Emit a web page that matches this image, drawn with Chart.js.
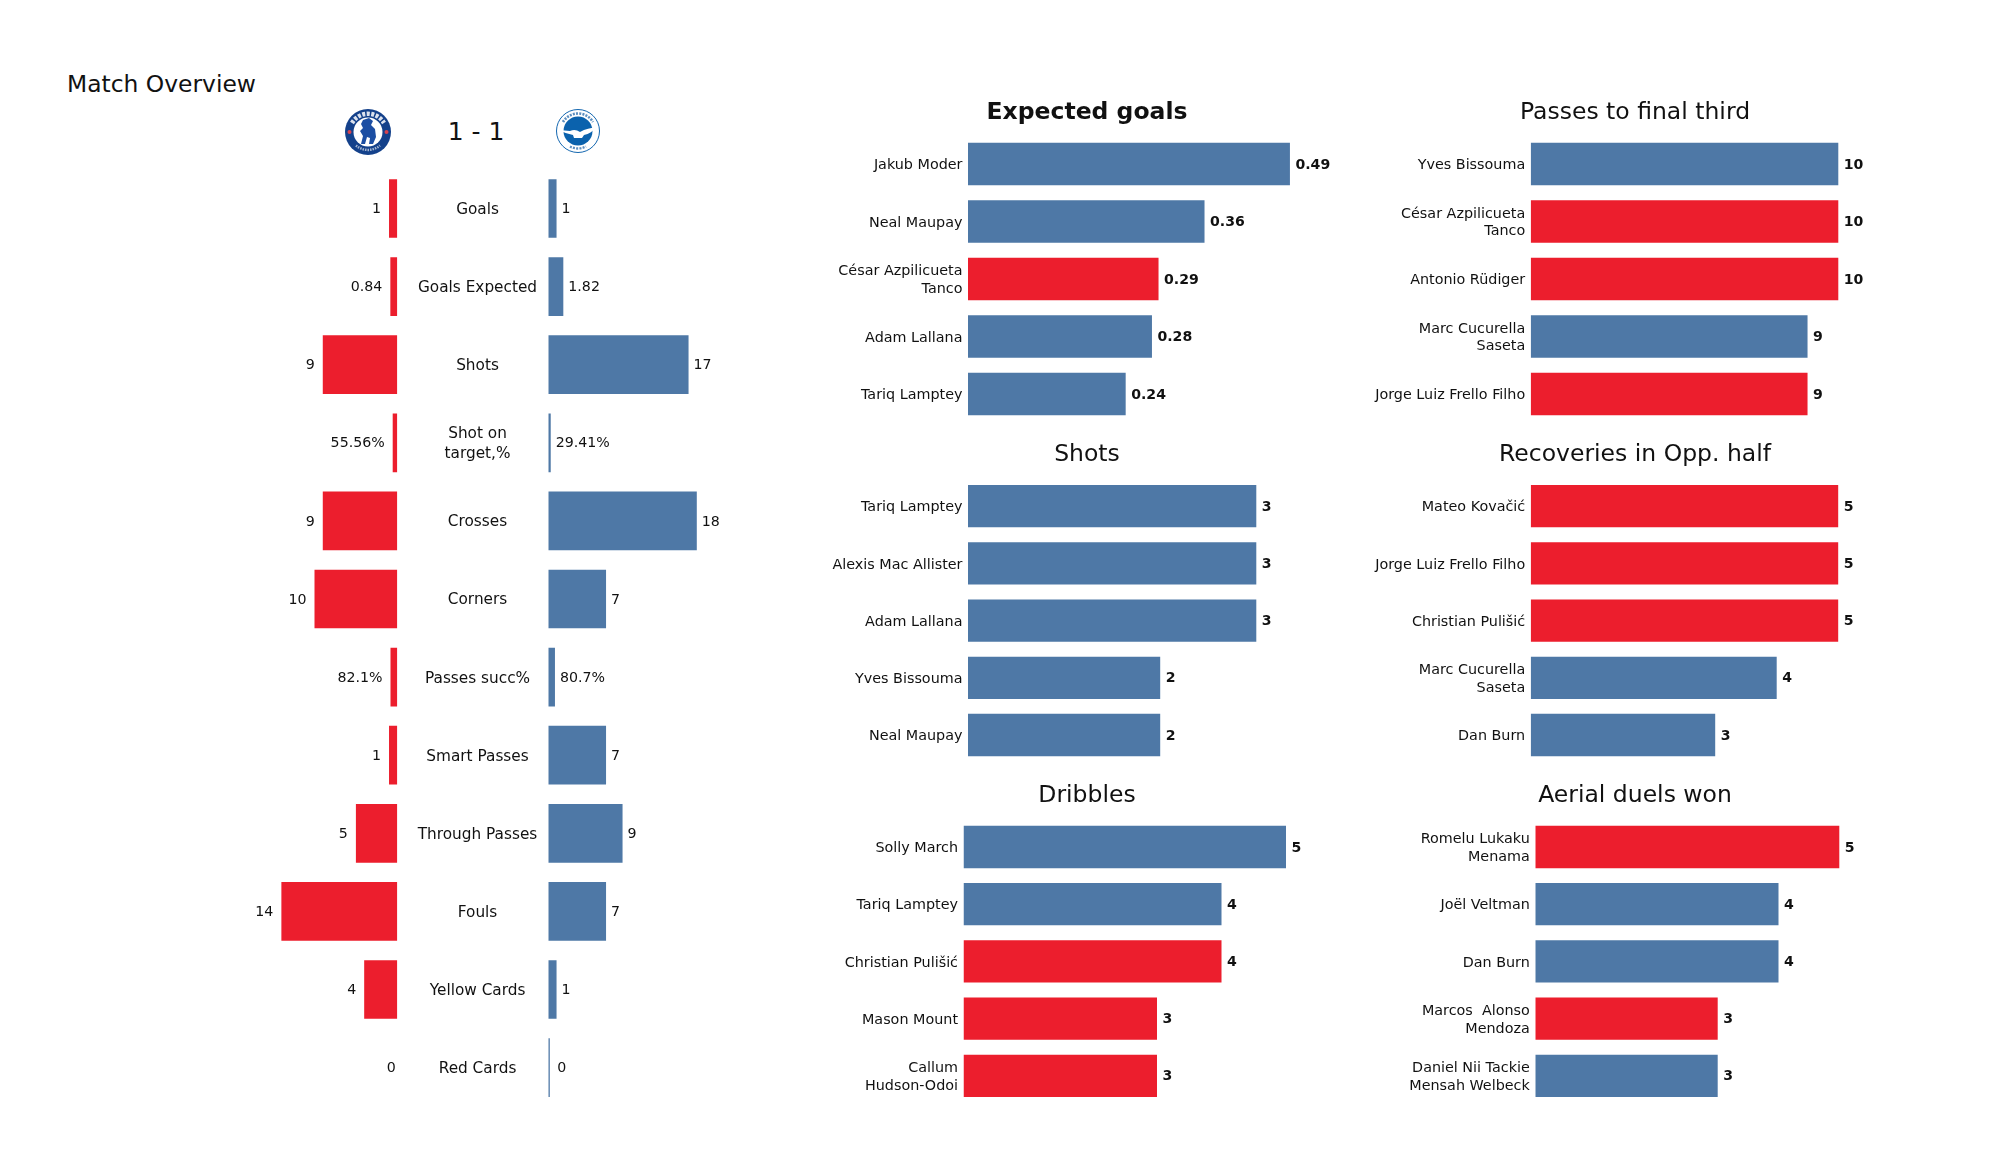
<!DOCTYPE html>
<html>
<head>
<meta charset="utf-8">
<title>Match Overview</title>
<script src="https://cdn.jsdelivr.net/npm/chart.js@4"></script>
<style>
  html, body { margin: 0; padding: 0; background: #fff; }
  body { position: relative; width: 2000px; height: 1175px; overflow: hidden; font-family: "DejaVu Sans", sans-serif; color: #111; }
  canvas { position: absolute; }
  .txt { position: absolute; white-space: nowrap; line-height: 1; }
  svg { position: absolute; }
</style>
</head>
<body>
<div class="txt" style="left:67px;top:73px;font-size:23.4px">Match Overview</div>
<div class="txt" style="left:426px;top:119px;width:100px;text-align:center;font-size:25px">1 - 1</div>

<!-- crests -->
<svg style="left:343px;top:107px" width="50" height="50" viewBox="0 0 50 50">
  <circle cx="25" cy="25" r="23" fill="#14418b"/>
  <path d="M9 16 A18.5 18.5 0 0 1 41 16" fill="none" stroke="#fff" stroke-width="4.5" stroke-dasharray="3 1.5" stroke-opacity="0.85"/>
  <path d="M13 38.5 A18.5 18.5 0 0 0 37 38.5" fill="none" stroke="#fff" stroke-width="2.5" stroke-dasharray="1.5 1" stroke-opacity="0.6"/>
  <circle cx="25" cy="25" r="14.5" fill="#fff"/>
  <circle cx="6.5" cy="25" r="2" fill="#d8434f"/>
  <circle cx="43.5" cy="25" r="2" fill="#d8434f"/>
  <path d="M20 13 L26 11 L30 14 L28 18 L32 22 L33 30 L30 37 L26 37 L27 31 L24 30 L22 37 L18 37 L20 29 L17 24 L20 21 L18 17 Z" fill="#1c4ea3"/>
</svg>
<svg style="left:554px;top:107px" width="48" height="48" viewBox="0 0 48 48">
  <circle cx="24" cy="24" r="21.5" fill="#fff" stroke="#1467b0" stroke-width="1"/>
  <path d="M9 15 A17.5 17.5 0 0 1 39 15" fill="none" stroke="#5d8fc0" stroke-width="2.6" stroke-dasharray="2 1.2"/>
  <path d="M16 39.5 A17.5 17.5 0 0 0 32 39.5" fill="none" stroke="#5d8fc0" stroke-width="2.4" stroke-dasharray="2 1.2"/>
  <circle cx="24" cy="24" r="14.5" fill="#0b62ad"/>
  <path d="M5 23 L16 24 C20 22 23 23 26 25 C31 22 37 21 43 20 C39 24 35 27 30 28 L28 31 L20 31 L19 28 C14 27 9 25 5 23 Z" fill="#fff"/>
</svg>

<script>
// colours
const RED = '#ec1e2d';
const BLUE = '#4e78a6';
const teamColors = { C: RED, B: BLUE };

// overview
const statNames = ['Goals', 'Goals Expected', 'Shots', ['Shot on', 'target,%'], 'Crosses', 'Corners', 'Passes succ%', 'Smart Passes', 'Through Passes', 'Fouls', 'Yellow Cards', 'Red Cards'];
const homeValues = [1, 0.84, 9, 0.5556, 9, 10, 0.821, 1, 5, 14, 4, 0];
const awayValues = [1, 1.82, 17, 0.2941, 18, 7, 0.807, 7, 9, 7, 1, 0];
const homeLabels = ['1', '0.84', '9', '55.56%', '9', '10', '82.1%', '1', '5', '14', '4', '0'];
const awayLabels = ['1', '1.82', '17', '29.41%', '18', '7', '80.7%', '7', '9', '7', '1', '0'];

// player panels
const xgNames = ['Jakub Moder', 'Neal Maupay', ['César Azpilicueta', 'Tanco'], 'Adam Lallana', 'Tariq Lamptey'];
const xgValues = [0.49, 0.36, 0.29, 0.28, 0.24];
const xgTeams = ['B', 'B', 'C', 'B', 'B'];

const finalThirdNames = ['Yves Bissouma', ['César Azpilicueta', 'Tanco'], 'Antonio Rüdiger', ['Marc Cucurella', 'Saseta'], 'Jorge Luiz Frello Filho'];
const finalThirdValues = [10, 10, 10, 9, 9];
const finalThirdTeams = ['B', 'C', 'C', 'B', 'C'];

const shotNames = ['Tariq Lamptey', 'Alexis Mac Allister', 'Adam Lallana', 'Yves Bissouma', 'Neal Maupay'];
const shotValues = [3, 3, 3, 2, 2];
const shotTeams = ['B', 'B', 'B', 'B', 'B'];

const recoveryNames = ['Mateo Kovačić', 'Jorge Luiz Frello Filho', 'Christian Pulišić', ['Marc Cucurella', 'Saseta'], 'Dan Burn'];
const recoveryValues = [5, 5, 5, 4, 3];
const recoveryTeams = ['C', 'C', 'C', 'B', 'B'];

const dribbleNames = ['Solly March', 'Tariq Lamptey', 'Christian Pulišić', 'Mason Mount', ['Callum', 'Hudson-Odoi']];
const dribbleValues = [5, 4, 4, 3, 3];
const dribbleTeams = ['B', 'B', 'C', 'C', 'C'];

const aerialNames = [['Romelu Lukaku', 'Menama'], 'Joël Veltman', 'Dan Burn', ['Marcos  Alonso', 'Mendoza'], ['Daniel Nii Tackie', 'Mensah Welbeck']];
const aerialValues = [5, 4, 4, 3, 3];
const aerialTeams = ['C', 'B', 'B', 'C', 'B'];

const FONT = '"DejaVu Sans", sans-serif';

// writes the value next to the end of each bar, nudges the tick labels down
const valueLabels = {
  id: 'valueLabels',
  beforeDraw(chart) {
    const axis = chart.scales.y;
    if (axis.options.display) {
      axis.getLabelItems().forEach((item) => { item.options.translation[1] += 1.5; });
    }
  },
  afterDatasetsDraw(chart, args, opts) {
    const ctx = chart.ctx;
    ctx.save();
    ctx.font = opts.font;
    ctx.fillStyle = '#111';
    ctx.textBaseline = 'middle';
    ctx.textAlign = opts.side === 'left' ? 'right' : 'left';
    chart.getDatasetMeta(0).data.forEach((bar, i) => {
      const value = chart.data.datasets[0].data[i];
      const gap = value === 0 ? opts.zeroGap : opts.gap;
      const x = opts.side === 'left' ? bar.x - gap : bar.x + gap;
      ctx.fillText(opts.texts[i], x, bar.y + opts.dy);
    });
    ctx.restore();
  }
};

function addCanvas(left, top, width, height) {
  const canvas = document.createElement('canvas');
  canvas.width = width;
  canvas.height = height;
  canvas.style.left = left + 'px';
  canvas.style.top = top + 'px';
  canvas.style.width = width + 'px';
  canvas.style.height = height + 'px';
  document.body.appendChild(canvas);
  return canvas;
}

function barChart(canvas, cfg) {
  return new Chart(canvas, {
    type: 'bar',
    plugins: [valueLabels],
    data: {
      labels: cfg.labels,
      datasets: [{
        data: cfg.values,
        backgroundColor: cfg.colors,
        borderWidth: 0,
        categoryPercentage: 1,
        barPercentage: cfg.barPercentage,
        minBarLength: cfg.minBarLength || 0
      }]
    },
    options: {
      indexAxis: 'y',
      responsive: false,
      animation: false,
      devicePixelRatio: 1,
      layout: { padding: cfg.padding },
      plugins: {
        legend: { display: false },
        tooltip: { enabled: false },
        title: cfg.title || { display: false },
        valueLabels: cfg.valueOpts
      },
      scales: {
        x: { type: 'linear', display: false, min: 0, max: cfg.max, reverse: !!cfg.reverse },
        y: {
          type: 'category',
          display: cfg.axisWidth > 0,
          grid: { display: false, drawTicks: false },
          border: { display: false },
          afterFit(axis) {
            // the plot band is set by hand, no room wanted for the tick labels
            axis.width = cfg.axisWidth;
            axis.paddingTop = 0;
            axis.paddingBottom = 0;
          },
          ticks: {
            autoSkip: false,
            color: '#111',
            crossAlign: cfg.tickAlign || 'near',
            padding: cfg.tickPadding,
            font: { family: FONT, size: cfg.tickSize, lineHeight: cfg.tickLine }
          }
        }
      }
    }
  });
}

// overview, a mirrored pair of bar charts
const overviewTop = 169.45, overviewHeight = 937.2;
const overviewBar = 0.752;

barChart(addCanvas(240, 169, 158, 938), {
  labels: statNames, values: homeValues, colors: RED,
  barPercentage: overviewBar, reverse: true, axisWidth: 0,
  max: 157.3 / 8.28,
  padding: { left: 0, right: 0.7, top: overviewTop - 169, bottom: 938 - (overviewTop - 169) - overviewHeight },
  valueOpts: { side: 'left', gap: 8, zeroGap: 1.5, dy: 1, texts: homeLabels, font: '14.2px ' + FONT }
});

barChart(addCanvas(408, 169, 352, 938), {
  labels: statNames, values: awayValues, colors: BLUE,
  barPercentage: overviewBar, axisWidth: 140.3, minBarLength: 1.5,
  tickAlign: 'center', tickPadding: 11, tickSize: 15.3, tickLine: 1.3,
  max: 211.7 / 8.25,
  padding: { left: 0, right: 0, top: overviewTop - 169, bottom: 938 - (overviewTop - 169) - overviewHeight },
  valueOpts: { side: 'right', gap: 5, zeroGap: 7.5, dy: 1, texts: awayLabels, font: '14.2px ' + FONT }
});

// player panels: title centre, first bar edge, pixels per unit, plot band
function playerPanel(p) {
  const titleLine = 28.2;
  const top = Math.floor(p.titleY - titleLine / 2);
  const padTop = p.titleY - titleLine / 2 - top;
  const height = Math.ceil(p.plotTop + p.plotHeight - top);
  const width = p.right - p.left;
  const canvas = addCanvas(p.left, top, width, height);
  barChart(canvas, {
    labels: p.names,
    values: p.values,
    colors: p.teams.map((t) => teamColors[t]),
    barPercentage: 0.74,
    axisWidth: p.barLeft - p.left,
    tickPadding: 5.5, tickSize: 14.35, tickLine: 1.22,
    max: (p.right - p.barLeft) / p.scale,
    padding: { left: 0, right: 0, top: 0, bottom: top + height - p.plotTop - p.plotHeight },
    title: {
      display: true,
      text: p.title,
      color: '#111',
      font: { family: FONT, size: 23.5, weight: p.bold ? 'bold' : 'normal', lineHeight: 1.2 },
      padding: { top: padTop, bottom: p.plotTop - top - padTop - titleLine }
    },
    valueOpts: {
      side: 'right', gap: 5.5, zeroGap: 5.5, dy: 1,
      texts: p.values.map(String),
      font: 'bold 14.1px ' + FONT
    }
  });
}

const leftCol = { left: 818, right: 1356 };
const rightCol = { left: 1365, right: 1905 };
const row1 = { titleY: 113.2, plotTop: 135.25, plotHeight: 287.5 };
const row2 = { titleY: 454.9, plotTop: 477.6, plotHeight: 286 };
const row3 = { titleY: 796.2, plotTop: 818.4, plotHeight: 286 };

playerPanel({ ...leftCol, ...row1, title: 'Expected goals', bold: true, barLeft: 968, scale: 657, names: xgNames, values: xgValues, teams: xgTeams });
playerPanel({ ...rightCol, ...row1, title: 'Passes to final third', barLeft: 1530.7, scale: 30.76, names: finalThirdNames, values: finalThirdValues, teams: finalThirdTeams });
playerPanel({ ...leftCol, ...row2, title: 'Shots', barLeft: 968, scale: 96.1, names: shotNames, values: shotValues, teams: shotTeams });
playerPanel({ ...rightCol, ...row2, title: 'Recoveries in Opp. half', barLeft: 1530.7, scale: 61.5, names: recoveryNames, values: recoveryValues, teams: recoveryTeams });
playerPanel({ ...leftCol, ...row3, title: 'Dribbles', barLeft: 963.5, scale: 64.5, names: dribbleNames, values: dribbleValues, teams: dribbleTeams });
playerPanel({ ...rightCol, ...row3, title: 'Aerial duels won', barLeft: 1535.3, scale: 60.8, names: aerialNames, values: aerialValues, teams: aerialTeams });
</script>
</body>
</html>
